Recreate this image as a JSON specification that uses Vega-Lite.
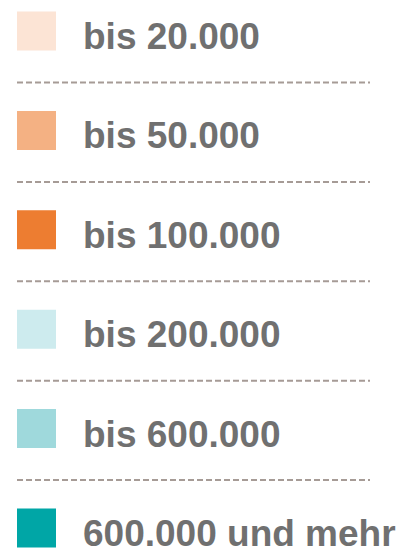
{
  "$schema": "https://vega.github.io/schema/vega-lite/v6.json",
  "width": 401,
  "height": 550,
  "padding": 0,
  "autosize": {"type": "fit", "contains": "padding"},
  "background": "white",
  "config": {"view": {"stroke": null}},
  "data": {
    "values": [
      {"i": 0, "label": "bis 20.000"},
      {"i": 1, "label": "bis 50.000"},
      {"i": 2, "label": "bis 100.000"},
      {"i": 3, "label": "bis 200.000"},
      {"i": 4, "label": "bis 600.000"},
      {"i": 5, "label": "600.000 und mehr"}
    ]
  },
  "encoding": {
    "y": {
      "field": "i",
      "type": "quantitative",
      "scale": {"domain": [0, 5], "range": [31, 528], "zero": false, "nice": false},
      "axis": null
    }
  },
  "layer": [
    {
      "transform": [{"filter": "datum.i < 5"}],
      "mark": {"type": "rule", "x": 17, "x2": 370, "yOffset": 51.5, "stroke": "#a69b96", "strokeWidth": 2, "strokeDash": [6, 3]},
      "encoding": {}
    },
    {
      "mark": {"type": "square", "x": 36.5, "size": 1521, "filled": true, "opacity": 1, "strokeWidth": 0},
      "encoding": {
        "color": {
          "field": "label",
          "type": "nominal",
          "scale": {
            "domain": ["bis 20.000", "bis 50.000", "bis 100.000", "bis 200.000", "bis 600.000", "600.000 und mehr"],
            "range": ["#fce4d5", "#f4b183", "#ed7d31", "#cdebee", "#9fd9dc", "#00a6a6"]
          },
          "legend": null
        }
      }
    },
    {
      "mark": {"type": "text", "x": 83, "align": "left", "baseline": "alphabetic", "dy": 18, "font": "Liberation Sans", "fontWeight": "bold", "fontSize": 37, "fill": "#707070"},
      "encoding": {"text": {"field": "label"}}
    }
  ]
}
